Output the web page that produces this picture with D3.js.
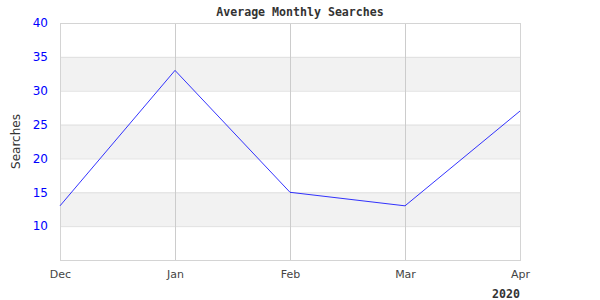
<!DOCTYPE html>
<html>
<head>
<meta charset="utf-8">
<script src="https://cdn.jsdelivr.net/npm/d3@7"></script>
<style>
  body { margin:0; background:#fff; }
  svg text { font-family: "DejaVu Sans", Verdana, sans-serif; }
</style>
</head>
<body>
<svg id="svg1" width="600" height="300"></svg>
<script>
var months = ["Dec","Jan","Feb","Mar","Apr"];
var searches = [13, 33, 15, 13, 27];
var yTicks = [10, 15, 20, 25, 30, 35, 40];
var bands = [[10,15],[20,25],[30,35]];

var svg = d3.select("#svg1"),
    margin = {left:60, right:80, top:23, bottom:40},
    W = +svg.attr("width"), H = +svg.attr("height");

var x = d3.scalePoint().domain(months).range([margin.left, W - margin.right]);
var y = d3.scaleLinear().domain([5, 40]).range([H - margin.bottom, margin.top]);

// alternating bands
svg.selectAll("rect.band")
  .data(bands)
  .enter().append("rect")
    .attr("class","band")
    .attr("x", margin.left)
    .attr("width", W - margin.right - margin.left)
    .attr("y", function(d){ return y(d[1]); })
    .attr("height", function(d){ return y(d[0]) - y(d[1]); })
    .attr("fill", "#f2f2f2");

// horizontal grid
var yAxis = d3.axisLeft(y).tickValues(yTicks).tickSize(-(W - margin.right - margin.left)).tickPadding(12);
var gy = svg.append("g").attr("transform","translate(" + margin.left + ",0)").call(yAxis);
gy.select(".domain").remove();
gy.selectAll("line").attr("stroke","#e0e0e0");
gy.selectAll("text").attr("fill","#0000ff").style("font-size","12px");

// vertical grid + x labels
var xAxis = d3.axisBottom(x).tickSize(-(H - margin.bottom - margin.top)).tickPadding(6);
var gx = svg.append("g").attr("transform","translate(0," + (H - margin.bottom) + ")").call(xAxis);
gx.select(".domain").remove();
gx.selectAll("line").attr("stroke","#cccccc");
gx.selectAll("text").attr("fill","#444").style("font-size","11px").attr("dy","1.05em");

// plot frame
svg.append("rect")
  .attr("x", margin.left + 0.5).attr("y", margin.top + 0.5)
  .attr("width", W - margin.right - margin.left).attr("height", H - margin.bottom - margin.top)
  .attr("fill","none").attr("stroke","#d4d4d4");

var line = d3.line()
  .x(function(d,i){ return x(months[i]); })
  .y(function(d){ return y(d); });

svg.append("path")
  .datum(searches)
  .attr("d", line)
  .attr("fill","none")
  .attr("stroke","#0000ff")
  .attr("stroke-width",0.8);

svg.append("text")
  .attr("x", 300).attr("y", 16)
  .attr("text-anchor","middle")
  .style("font-family","'DejaVu Sans Mono', monospace")
  .style("font-weight","bold").style("font-size","11.6px")
  .attr("fill","#333")
  .text("Average Monthly Searches");

svg.append("text")
  .attr("transform","translate(20," + ((H - margin.bottom + margin.top)/2) + ") rotate(-90)")
  .attr("text-anchor","middle")
  .style("font-size","12px")
  .attr("fill","#333")
  .text("Searches");

svg.append("text")
  .attr("x", 520).attr("y", 298)
  .attr("text-anchor","end")
  .style("font-family","'DejaVu Sans Mono', monospace")
  .style("font-weight","bold").style("font-size","11.6px")
  .attr("fill","#333")
  .text("2020");
</script>
</body>
</html>
